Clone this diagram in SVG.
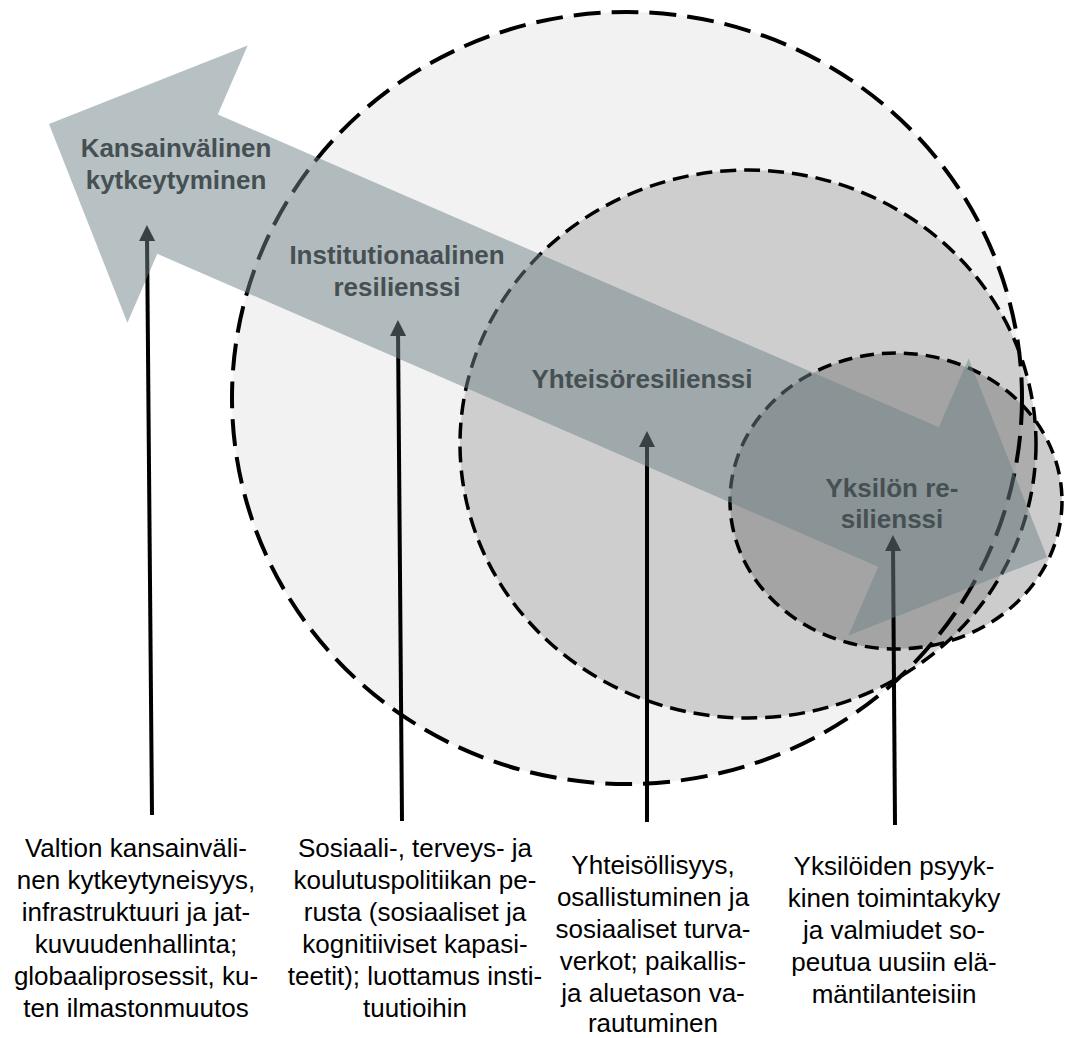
<svg xmlns="http://www.w3.org/2000/svg" width="1067" height="1038" viewBox="0 0 1067 1038">
  <defs>
    <style>
      .ring { stroke: #000; fill-rule: nonzero; }
      .big { fill: #f2f2f2; stroke-width: 4; stroke-dasharray: 27 11; }
      .mid { fill: #000; fill-opacity: 0.15; stroke-width: 3.5; stroke-dasharray: 16 8; }
      .small { fill: #000; fill-opacity: 0.2; stroke-width: 3.5; stroke-dasharray: 14 8; }
      .conn { stroke: #000; stroke-width: 4; fill: none; marker-end: url(#ah); }
      .band { fill: #6f8187; fill-opacity: 0.5; }
      .lbl { font-family: "Liberation Sans", Arial, sans-serif; font-weight: bold; font-size: 26px; fill: #465053; text-anchor: middle; }
      .desc { font-family: "Liberation Sans", Arial, sans-serif; font-size: 26px; fill: #000; text-anchor: middle; }
    </style>
    <marker id="ah" markerUnits="userSpaceOnUse" markerWidth="16" markerHeight="16" viewBox="0 0 16 16" refX="6" refY="8" orient="auto">
      <path d="M0,0 L16,8 L0,16 z" fill="#000"/>
    </marker>
  </defs>

  <g id="circle-big">
    <ellipse class="ring big" cx="627" cy="398" rx="395" ry="386"/>
  </g>
  <g id="circle-mid">
    <ellipse class="ring mid" cx="748" cy="444" rx="288" ry="274"/>
  </g>
  <g id="circle-small">
    <ellipse class="ring small" cx="896" cy="501" rx="166" ry="148"/>
  </g>

  <g id="connectors">
    <line class="conn" x1="152" y1="815" x2="147" y2="235"/>
    <line class="conn" x1="402" y1="821" x2="398" y2="330"/>
    <line class="conn" x1="647" y1="822" x2="647" y2="441"/>
    <line class="conn" x1="895" y1="825" x2="893" y2="545"/>
  </g>

  <g id="band-arrow">
    <polygon class="band" transform="translate(49,124) rotate(23.46)" points="0,0 151,-151 151,-76 937,-76 937,-151 1088,0 937,151 937,76 151,76 151,151"/>
  </g>

  <g id="label-kansainvalinen">
    <text class="lbl" x="176" y="157">Kansainvälinen</text>
    <text class="lbl" x="176" y="189">kytkeytyminen</text>
  </g>
  <g id="label-institutionaalinen">
    <text class="lbl" x="397" y="264">Institutionaalinen</text>
    <text class="lbl" x="397" y="296">resilienssi</text>
  </g>
  <g id="label-yhteiso">
    <text class="lbl" x="642" y="388">Yhteisöresilienssi</text>
  </g>
  <g id="label-yksilo">
    <text class="lbl" x="892" y="497">Yksilön re-</text>
    <text class="lbl" x="892" y="528">silienssi</text>
  </g>

  <g id="desc-valtio">
    <text class="desc" x="136" y="857">Valtion kansainväli-</text>
    <text class="desc" x="136" y="889">nen kytkeytyneisyys,</text>
    <text class="desc" x="136" y="921">infrastruktuuri ja jat-</text>
    <text class="desc" x="136" y="953">kuvuudenhallinta;</text>
    <text class="desc" x="136" y="985">globaaliprosessit, ku-</text>
    <text class="desc" x="136" y="1017">ten ilmastonmuutos</text>
  </g>
  <g id="desc-sosiaali">
    <text class="desc" x="415" y="857">Sosiaali-, terveys- ja</text>
    <text class="desc" x="415" y="889">koulutuspolitiikan pe-</text>
    <text class="desc" x="415" y="921">rusta (sosiaaliset ja</text>
    <text class="desc" x="415" y="953">kognitiiviset kapasi-</text>
    <text class="desc" x="415" y="985">teetit); luottamus insti-</text>
    <text class="desc" x="415" y="1017">tuutioihin</text>
  </g>
  <g id="desc-yhteisollisyys">
    <text class="desc" x="653" y="874">Yhteisöllisyys,</text>
    <text class="desc" x="653" y="906">osallistuminen ja</text>
    <text class="desc" x="653" y="938">sosiaaliset turva-</text>
    <text class="desc" x="653" y="970">verkot; paikallis-</text>
    <text class="desc" x="653" y="1002">ja aluetason va-</text>
    <text class="desc" x="653" y="1032">rautuminen</text>
  </g>
  <g id="desc-yksilot">
    <text class="desc" x="894" y="875">Yksilöiden psyyk-</text>
    <text class="desc" x="894" y="907">kinen toimintakyky</text>
    <text class="desc" x="894" y="939">ja valmiudet so-</text>
    <text class="desc" x="894" y="971">peutua uusiin elä-</text>
    <text class="desc" x="894" y="1003">mäntilanteisiin</text>
  </g>
</svg>
